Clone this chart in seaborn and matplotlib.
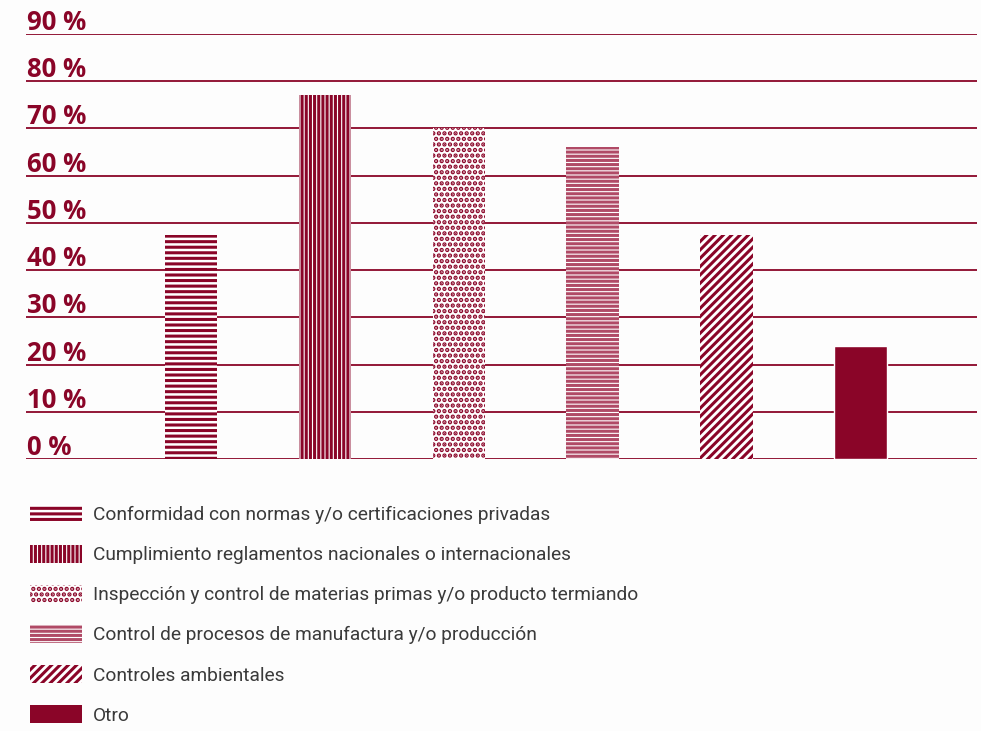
import pandas as pd
import numpy as np
import matplotlib
matplotlib.use('Agg')
import matplotlib.pyplot as plt
import seaborn as sns
from matplotlib.patches import Patch
from matplotlib.transforms import blended_transform_factory

categorias = [
    'Conformidad con normas y/o certificaciones privadas',
    'Cumplimiento reglamentos nacionales o internacionales',
    'Inspección y control de materias primas y/o producto termiando',
    'Control de procesos de manufactura y/o producción',
    'Controles ambientales',
    'Otro',
]
valores = [47.5, 77.0, 70.0, 66.0, 47.5, 24.0]
yticks = [0, 10, 20, 30, 40, 50, 60, 70, 80, 90]
tramas = ['---', '||||', '...', '----', '////', '']

ROJO = '#8a0528'
ROJO_CLARO = '#b04a66'   # la trama ondulada se ve mas clara
GRIS = '#3a3a3a'
bordes = [ROJO, ROJO, ROJO, ROJO_CLARO, ROJO, ROJO]

sns.set_style('white')
plt.rcParams['font.family'] = ['Roboto', 'DejaVu Sans']
plt.rcParams['hatch.linewidth'] = 2.2

fig = plt.figure(figsize=(9.81, 7.31), dpi=100)
fig.patch.set_facecolor('#fdfdfd')
ax = fig.add_axes([26 / 981, 1 - 459 / 731, (977 - 26) / 981, (459 - 34) / 731])
ax.set_facecolor('#fdfdfd')

df = pd.DataFrame({'cat': categorias, 'val': valores})
sns.barplot(data=df, x='cat', y='val', color=ROJO, width=0.39, ax=ax,
            saturation=1, zorder=3)

for barra, trama, borde in zip(ax.patches, tramas, bordes):
    if trama:
        barra.set_facecolor('white')
        barra.set_edgecolor(borde)
        barra.set_linewidth(0)
        barra.set_hatch(trama)

ax.set_ylim(0, 90)
ax.set_xlim(-1.23, 5.87)
ax.set_xticks([])
ax.set_yticks([])
ax.set_xlabel('')
ax.set_ylabel('')
for s in ax.spines.values():
    s.set_visible(False)

tr = blended_transform_factory(ax.transAxes, ax.transData)
for v in yticks:
    ax.axhline(v, color=ROJO, lw=1.3, zorder=2)
    ax.text(0.001, v + 0.85, f'{v} %', transform=tr, color=ROJO,
            fontsize=18.5, fontweight='bold', ha='left', va='baseline',
            family=['Open Sans', 'DejaVu Sans'])

handles = [Patch(facecolor='white' if t else ROJO, edgecolor=b, lw=0,
                 hatch=t, label=c) for c, t, b in zip(categorias, tramas, bordes)]
leg = fig.legend(handles=handles, loc='upper left',
                 bbox_to_anchor=(22 / 981, 1 - 497 / 731), frameon=False,
                 fontsize=13.8, handlelength=2.75, handleheight=1.05,
                 labelspacing=1.08, handletextpad=0.55, borderaxespad=0)
for t in leg.get_texts():
    t.set_color(GRIS)

fig.savefig('out.png', dpi=100, facecolor=fig.get_facecolor())
